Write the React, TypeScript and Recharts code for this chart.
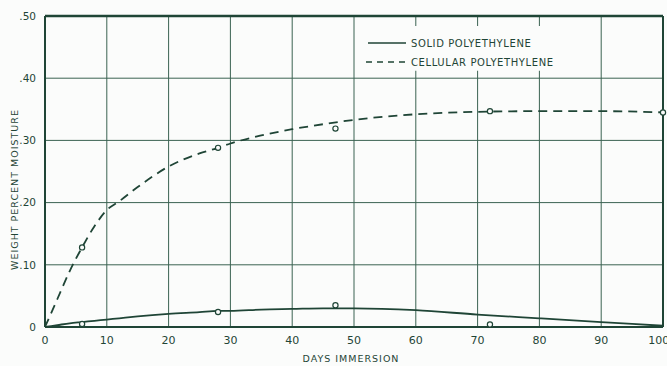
import {
  ComposedChart,
  Line,
  Scatter,
  XAxis,
  YAxis,
  CartesianGrid,
  ReferenceLine,
  ReferenceArea,
} from 'recharts';

// smooth fitted curves as drawn on the sheet
const curveDays = [0, 2, 4, 6, 8, 10, 12, 15, 20, 25, 28, 30, 35, 40, 45, 50, 60, 70, 80, 90, 100];
const cellularCurve = [0, 0.045, 0.09, 0.128, 0.162, 0.188, 0.202, 0.225, 0.258, 0.279, 0.288, 0.295, 0.308, 0.318, 0.326, 0.333, 0.342, 0.346, 0.347, 0.347, 0.345];
const solidCurve = [0, 0.003, 0.006, 0.008, 0.01, 0.012, 0.014, 0.017, 0.021, 0.024, 0.026, 0.026, 0.028, 0.029, 0.03, 0.03, 0.027, 0.02, 0.014, 0.008, 0.002];

// observed test points
const obsDays = [6, 28, 47, 72, 100];
const cellularObs = [0.128, 0.288, 0.319, 0.347, 0.345];
const solidObs = [0.005, 0.024, 0.035, 0.004, 0.002];

const xTicks = [0, 10, 20, 30, 40, 50, 60, 70, 80, 90, 100];
const yTicks = [0, 0.1, 0.2, 0.3, 0.4, 0.5];

const INK = '#1f4536';
const GRID = '#3b6352';
const PAPER = '#fbfcfb';
const FONT = '"DejaVu Sans", sans-serif';

const curveData = curveDays.map((d, i) => ({ day: d, cellular: cellularCurve[i], solid: solidCurve[i] }));
const cellPts = obsDays.map((d, i) => ({ day: d, v: cellularObs[i] }));
const solidPts = obsDays.slice(0, 4).map((d, i) => ({ day: d, v: solidObs[i] }));

function fmtY(v: number) {
  if (v === 0) return '0';
  return '.' + Math.round(v * 100).toString().padStart(2, '0');
}

function OpenDot(props: any) {
  const { cx, cy } = props;
  if (cx == null || cy == null) return null;
  return <circle cx={cx} cy={cy} r={2.6} fill={PAPER} stroke={INK} strokeWidth={1.2} />;
}

function LegendBox() {
  const txt = { fontFamily: FONT, fontSize: 10, letterSpacing: 0.6, fill: INK };
  return (
    <svg width={230} height={34} style={{ position: 'absolute', left: 366, top: 35, overflow: 'visible' }}>
      <line x1={2} y1={8} x2={40} y2={8} stroke={INK} strokeWidth={1.6} />
      <text x={45} y={12} style={txt}>SOLID POLYETHYLENE</text>
      <line x1={0} y1={27} x2={40} y2={27} stroke={INK} strokeWidth={1.6} strokeDasharray="6 5" />
      <text x={45} y={31} style={txt}>CELLULAR POLYETHYLENE</text>
    </svg>
  );
}

function YTitle(props: any) {
  const vb = props.viewBox;
  const x = vb.x + 15;
  const y = vb.y + vb.height / 2 + 18;
  return (
    <text
      x={x}
      y={y}
      transform={`rotate(-90, ${x}, ${y})`}
      textAnchor="middle"
      dominantBaseline="middle"
      style={{ fontFamily: FONT, fontSize: 9.5, letterSpacing: 1, fill: INK }}
    >
      WEIGHT PERCENT MOISTURE
    </text>
  );
}

function XTitle(props: any) {
  const vb = props.viewBox;
  return (
    <text
      x={vb.x + vb.width / 2 - 3}
      y={vb.y + 35}
      textAnchor="middle"
      style={{ fontFamily: FONT, fontSize: 9.5, letterSpacing: 1, fill: INK }}
    >
      DAYS IMMERSION
    </text>
  );
}

export default function App() {
  return (
    <div style={{ position: 'absolute', left: 0, top: 0, width: 667, height: 366, background: PAPER }}>
      <ComposedChart
        width={667}
        height={366}
        data={curveData}
        margin={{ top: 16, right: 4, left: 0, bottom: 9 }}
      >
        <CartesianGrid stroke={GRID} strokeWidth={1} />
        <XAxis
          dataKey="day"
          type="number"
          domain={[0, 100]}
          ticks={xTicks}
          height={30}
          tickLine={false}
          axisLine={{ stroke: INK, strokeWidth: 2 }}
          tick={{ fill: INK, fontSize: 11, fontFamily: FONT }}
          tickMargin={3}
          label={{ content: XTitle }}
        />
        <YAxis
          type="number"
          domain={[0, 0.5]}
          ticks={yTicks}
          width={45}
          tickLine={false}
          axisLine={{ stroke: INK, strokeWidth: 2 }}
          tick={{ fill: INK, fontSize: 10.5, fontFamily: FONT }}
          tickFormatter={fmtY}
          tickMargin={3}
          label={{ content: YTitle }}
        />
        <ReferenceLine y={0.5} stroke={INK} strokeWidth={2.5} />
        <ReferenceLine x={100} stroke={INK} strokeWidth={2} />
        <ReferenceArea x1={50.6} x2={89.4} y1={0.412} y2={0.484} fill={PAPER} fillOpacity={1} stroke="none" />
        <Line
          type="monotone"
          dataKey="cellular"
          stroke={INK}
          strokeWidth={1.8}
          strokeDasharray="9 6"
          dot={false}
          isAnimationActive={false}
        />
        <Line
          type="monotone"
          dataKey="solid"
          stroke={INK}
          strokeWidth={1.8}
          dot={false}
          isAnimationActive={false}
        />
        <Scatter data={cellPts} dataKey="v" shape={OpenDot} isAnimationActive={false} />
        <Scatter data={solidPts} dataKey="v" shape={OpenDot} isAnimationActive={false} />
      </ComposedChart>
      <LegendBox />
    </div>
  );
}
